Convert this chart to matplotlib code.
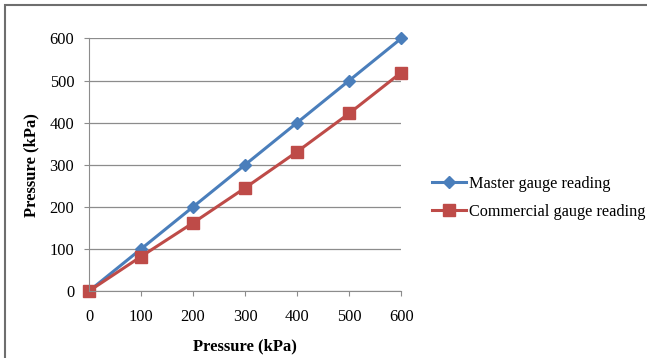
import matplotlib
matplotlib.use("Agg")
import matplotlib.pyplot as plt
from matplotlib.patches import Rectangle

# Data
pressure = [0, 100, 200, 300, 400, 500, 600]
master = [0, 100, 200, 300, 400, 500, 600]
commercial = [0, 82, 162, 245, 331, 422, 519]

plt.rcParams['font.family'] = ['Liberation Serif', 'DejaVu Serif']

fig = plt.figure(figsize=(6.47, 3.58), dpi=100)
ax = fig.add_axes([0.1376, 0.187, 0.4824, 0.7055])

ax.plot(pressure, master, color='#4A7EBB', lw=2.2, marker='D', ms=6,
        label='Master gauge reading')
ax.plot(pressure, commercial, color='#BE4B48', lw=2.2, marker='s', ms=8,
        label='Commercial gauge reading')

ax.set_xlim(0, 600)
ax.set_ylim(0, 600)
ax.set_xticks(range(0, 601, 100))
ax.set_yticks(range(0, 601, 100))
ax.yaxis.grid(True, color='#8C8C8C', lw=0.9)
ax.set_axisbelow(True)
for s in ['top', 'right']:
    ax.spines[s].set_visible(False)
for s in ['left', 'bottom']:
    ax.spines[s].set_color('#8C8C8C')
ax.tick_params(axis='both', labelsize=11.8, color='#8C8C8C', length=3.6)
ax.tick_params(axis='y', pad=7)
ax.tick_params(axis='x', pad=9)

ax.set_xlabel('Pressure (kPa)', fontsize=12, fontweight='bold', va='center')
ax.set_ylabel('Pressure (kPa)', fontsize=12, fontweight='bold', va='center')
ax.xaxis.set_label_coords(0.5, -0.221)
ax.yaxis.set_label_coords(-0.186, 0.5)

for l in ax.lines:
    l.set_clip_on(False)

fig.legend(loc='center left', bbox_to_anchor=(0.668, 0.447), frameon=False,
           fontsize=11.7, handlelength=2.05, handletextpad=0.2,
           labelspacing=0.72, borderpad=0, borderaxespad=0)

fig.patches.append(Rectangle((5 / 647, -0.1), 1.1, 1.1 - 5 / 358,
                             transform=fig.transFigure, fill=False,
                             edgecolor='#6E6E6E', lw=1.5))

fig.savefig('out.png', dpi=100)
